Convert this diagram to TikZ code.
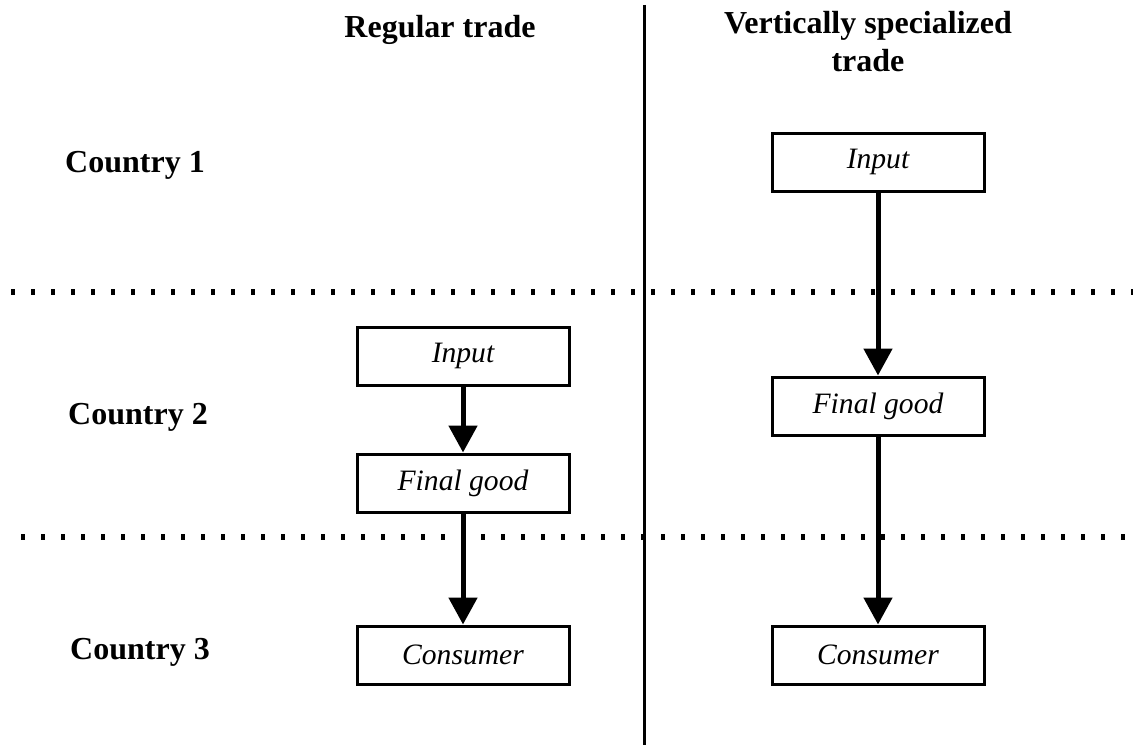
\documentclass[tikz,border=0pt]{standalone}
\usepackage{fontspec}
\setmainfont{Liberation Serif}
\usetikzlibrary{arrows.meta}
\tikzstyle{line} = [draw, line width=2.5pt, -{Triangle[length=13.5pt,width=14pt]}]
\tikzstyle{stage} = [rectangle, draw, line width=1.5pt, minimum width=106pt, minimum height=29pt, inner sep=0pt, font=\fontsize{14.8}{17}\selectfont\itshape]
\tikzstyle{country} = [font=\fontsize{16}{19}\selectfont\bfseries]
\tikzstyle{head} = [font=\fontsize{16}{19}\selectfont\bfseries, align=center]
\begin{document}
\begin{tikzpicture}[x=0.5pt, y=0.5pt]
	\tikzset{dots/.style={draw, line width=3pt, dash pattern=on 2pt off 8pt}}
	\useasboundingbox (0,0) rectangle (1133,-749);
	% headings and divider
	\node [head] (regular) at (440,-30) {Regular trade};
	\node [head] (vertical) at (868,-42) {Vertically specialized\\trade};
	\coordinate (divtop) at (644,-5);
	\coordinate (divbot) at (644,-745);
	\draw [line width=1.5pt] (divtop) -- (divbot);
	\coordinate (sepAl) at (11,-292);
	\coordinate (sepAr) at (1133,-292);
	\coordinate (sepBl) at (21,-537);
	\coordinate (sepBr) at (1133,-537);
	\path [dots] (sepAl) -- (sepAr);
	\path [dots] (sepBl) -- (sepBr);
	% countries
	\node [country] (c1) at (135,-165) {Country 1};
	\node [country] (c2) at (138,-417) {Country 2};
	\node [country] (c3) at (140,-652) {Country 3};
	% regular trade
	\node [stage] (rinput) at (463,-356) {Input};
	\node [stage, below of=rinput, node distance=63.5pt] (rfinal) {Final good};
	\node [stage, below of=rfinal, node distance=86pt] (rcons) {Consumer};
	% vertically specialized trade
	\node [stage] (vinput) at (878,-162) {Input};
	\node [stage, below of=vinput, node distance=122pt] (vfinal) {Final good};
	\node [stage, below of=vfinal, node distance=124.5pt] (vcons) {Consumer};
	\path [line] (rinput) -> (rfinal);
	\path [line] (rfinal) -> (rcons);
	\path [line] (vinput) -> (vfinal);
	\path [line] (vfinal) -> (vcons);
\end{tikzpicture}
\end{document}
